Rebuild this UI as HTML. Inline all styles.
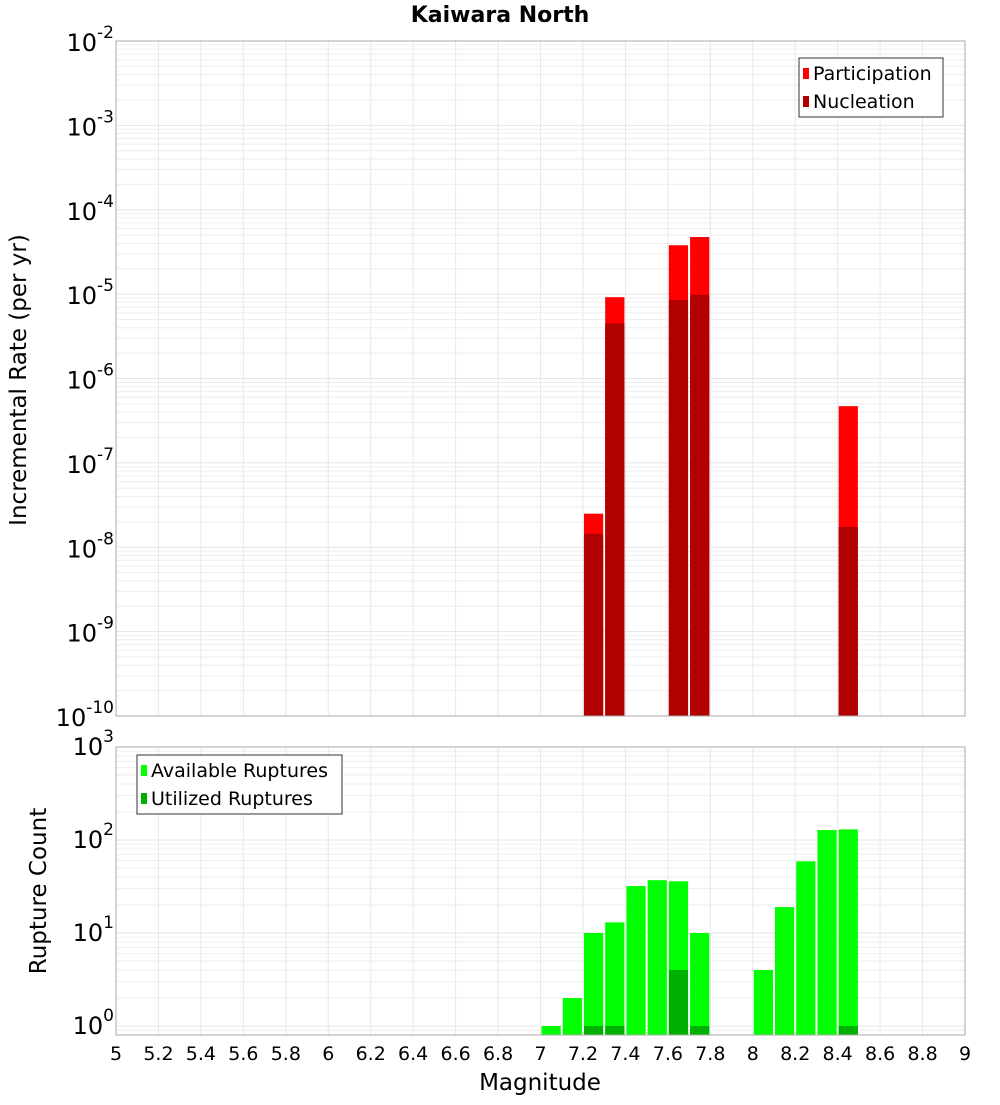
<!DOCTYPE html>
<html><head><meta charset="utf-8"><style>
body{margin:0;background:#fff;font-family:"Liberation Sans","DejaVu Sans",sans-serif}
svg text{font-family:"DejaVu Sans","Liberation Sans",sans-serif}
</style></head><body>
<svg id="c" width="1000" height="1100" xmlns="http://www.w3.org/2000/svg"></svg>
<script>
const bins=[7.05,7.15,7.25,7.35,7.45,7.55,7.65,7.75,8.05,8.15,8.25,8.35,8.45];
const partBins=[7.25,7.35,7.65,7.75,8.45];
const participation=[2.5e-8,9.2e-6,3.8e-5,4.75e-5,4.7e-7];
const nucleation=[1.44e-8,4.5e-6,8.5e-6,9.8e-6,1.74e-8];
const available=[1,2,10,13,32,37,36,10,4,19,59,128,130];
const utilBins=[7.25,7.35,7.65,7.75,8.45];
const utilized=[1,1,4,1,1];
const xTicks=["5","5.2","5.4","5.6","5.8","6","6.2","6.4","6.6","6.8","7","7.2","7.4","7.6","7.8","8","8.2","8.4","8.6","8.8","9"];
const topExp=[-2,-3,-4,-5,-6,-7,-8,-9,-10];
const botExp=[3,2,1,0];

const svg=document.getElementById('c');
const NS='http://www.w3.org/2000/svg';
function el(t,a,p){const e=document.createElementNS(NS,t);for(const k in a)e.setAttribute(k,a[k]);(p||svg).appendChild(e);return e;}
const L=116,R=965;
const X=v=>L+(v-5)*(R-L)/4;
const T0=41,T1=716;
const YT=v=>T1-(Math.log10(v)+10)*(T1-T0)/8;
const B0=747,B1=1035,Bdec=93,B1y=1026;
const YB=v=>B1y-Math.log10(v)*Bdec;

function grids(top,bot,Yf,lo,hi){
  for(let e=lo;e<hi;e++)for(let m=1;m<10;m++){const y=Yf(m*Math.pow(10,e));if(y<top||y>bot)continue;
    const g=el('line',{x1:L,x2:R,y1:y,y2:y,stroke:m==1?'#e4e4e4':'#eeeeee','stroke-width':1});
    
    }
  xTicks.forEach(t=>{const x=X(+t);const g=el('line',{x1:x,x2:x,y1:top,y2:bot,stroke:'#e8e8e8'});
    
    });
}
grids(T0,T1,YT,-10,-2);
grids(B0,B1,YB,-1,3);

function bar(m,v,base,Yf,fill,name){const x0=X(m-0.05)+1,x1=X(m+0.05)-1;const y=Yf(v);
  const r=el('rect',{x:x0,y:y,width:x1-x0,height:base-y,fill:fill});
  
  }
partBins.forEach((m,i)=>bar(m,participation[i],T1,YT,'#ff0000','participation-bar'));
partBins.forEach((m,i)=>bar(m,nucleation[i],T1,YT,'#b00000','nucleation-bar'));
bins.forEach((m,i)=>bar(m,available[i],B1,YB,'#00ff00','available-bar'));
utilBins.forEach((m,i)=>bar(m,utilized[i],B1,YB,'#00b000','utilized-bar'));

el('rect',{x:L,y:T0,width:R-L,height:T1-T0,fill:'none',stroke:'#aaa'});
el('rect',{x:L,y:B0,width:R-L,height:B1-B0,fill:'none',stroke:'#aaa'});

function powLabel(x,y,e,name){const t=el('text',{x:x,y:y,'font-size':24,'text-anchor':'end',fill:'#000'});
  
  
  t.textContent='10';const s=el('tspan',{dy:-13,'font-size':17},t);s.textContent=e;}
topExp.forEach(e=>powLabel(114,YT(Math.pow(10,e))+10,e,'y-tick-label'));
botExp.forEach(e=>powLabel(114,YB(Math.pow(10,e))+8,e,'y-tick-label'));
xTicks.forEach(t=>{const tx=el('text',{x:X(+t),y:1060,'font-size':19,'text-anchor':'middle'});
  
  
  tx.textContent=t;});

function txt(s,a,name){const t=el('text',a);t.textContent=s;
  
  return t;}
txt('Kaiwara North',{x:500,y:22,'font-size':22,'font-weight':'bold','text-anchor':'middle'},'chart-title');
txt('Magnitude',{x:540,y:1090,'font-size':23,'text-anchor':'middle'},'x-axis-title');
txt('Incremental Rate (per yr)',{x:0,y:0,'font-size':23,'text-anchor':'middle',transform:'translate(26,380) rotate(-90)'},'y-axis-title-top');
txt('Rupture Count',{x:0,y:0,'font-size':23,'text-anchor':'middle',transform:'translate(46,891) rotate(-90)'},'y-axis-title-bottom');

function legend(x,y,w,items,name){const g=el('g',{});
  
  
  el('rect',{x:x,y:y,width:w,height:59,fill:'#fff',stroke:'#333'},g);
  items.forEach((it,i)=>{el('rect',{x:x+4,y:y+10+i*28,width:6,height:11,fill:it[1]},g);
    const t=el('text',{x:x+14,y:y+22+i*28,'font-size':19},g);t.textContent=it[0];});}
legend(799,58,144,[['Participation','#ff0000'],['Nucleation','#b00000']],'legend-top');
legend(137,755,205,[['Available Ruptures','#00ff00'],['Utilized Ruptures','#00b000']],'legend-bottom');
</script>
</body></html>
